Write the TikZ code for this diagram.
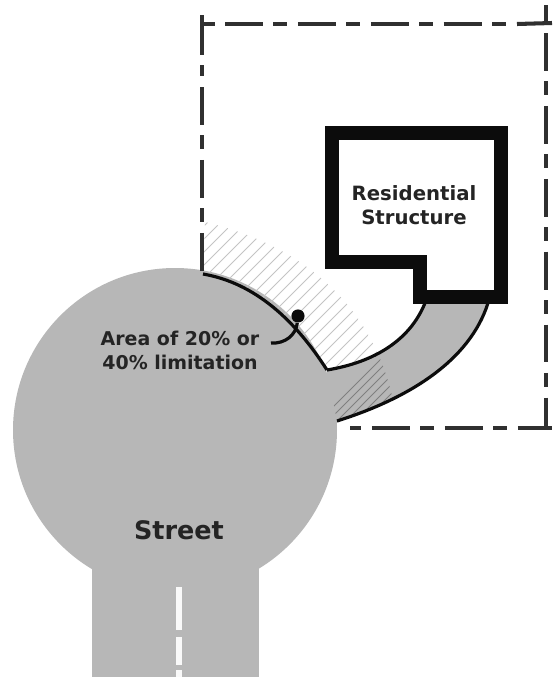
\documentclass[tikz,border=0pt]{standalone}
\usepackage{fontspec}
\setmainfont{DejaVu Sans}
\definecolor{RoadGrey}{HTML}{B7B7B7}
\definecolor{HatchLight}{HTML}{C4C4C4}
\definecolor{HatchDark}{HTML}{7F7F7F}
\definecolor{WallBlack}{HTML}{0C0C0C}
\newcommand{\edgeCurve}{(203,274) .. controls (255,283) and (295,320) .. (327,370)}
\newcommand{\edgeBack}{(327,370) .. controls (295,320) and (255,283) .. (203,274)}
\newcommand{\innerCurve}{(327,370) .. controls (375,362) and (410,340) .. (425,303)}
\newcommand{\innerBack}{(425,303) .. controls (410,340) and (375,362) .. (327,370)}
\newcommand{\outerCurve}{(337,421) .. controls (410,398) and (470,360) .. (488,303)}
\newcommand{\hatchEdge}{(205,222) .. controls (290,242) and (370,295) .. (393,400)}
\tikzset{
  lotline/.style={WallBlack!85,line width=2.3pt,dash pattern=on 21.5pt off 6pt on 8pt off 6pt},
  lotsolid/.style={WallBlack!85,line width=2.3pt},
  arcline/.style={WallBlack,line width=1.8pt},
  label/.style={text=WallBlack!90,align=center,inner sep=0pt}
}
\begin{document}
\begin{tikzpicture}[x=0.02cm,y=-0.02cm]
  \useasboundingbox (0,0) rectangle (552,677);
  % street and driveway
  \fill[RoadGrey] (175,430) circle (162);
  \fill[RoadGrey] (92,560) rectangle (259,677);
  \fill[RoadGrey] \outerCurve -- (425,303) .. controls (410,340) and (375,362) .. (327,370) -- (320,400) -- cycle;
  \foreach \y/\z in {587/630,637/665,670/677} {
    \fill[white!92!RoadGrey] (176,\y) rectangle (182,\z);
  }
  % hatching
  \begin{scope}
    \clip \hatchEdge -- (337,421) -- \edgeBack -- cycle;
    \begin{scope}
      \clip (200,200) -- (430,200) -- \innerBack -- (200,370) -- cycle;
      \foreach \t in {0,13,...,330} {
        \draw[HatchLight,line width=0.5pt] (40+\t,390) -- +(200,-200);
      }
    \end{scope}
    \begin{scope}
      \clip \innerCurve -- (430,430) -- (327,430) -- cycle;
      \foreach \t in {0,9,...,120} {
        \draw[HatchDark,line width=0.5pt] (310+\t,430) -- +(90,-90);
      }
    \end{scope}
  \end{scope}
  % arcs
  \draw[arcline] \edgeCurve;
  \draw[arcline] \innerCurve;
  \draw[arcline] \outerCurve;
  % lot lines
  \draw[lotsolid] (202,15) -- (202,55);
  \draw[lotsolid] (202,24) -- (215,24);
  \draw[lotline] (225,24) -- (507,24);
  \draw[lotsolid] (517,24) -- (552,23);
  \draw[lotsolid] (546,5) -- (546,24);
  \draw[lotline] (546,33) -- (546,428);
  \draw[lotline,line width=1.9pt] (202,65) -- (202,76);
  \draw[lotline,line width=1.9pt] (202,87) -- (202,274);
  \draw[lotline,dash phase=29pt] (350,428) -- (552,428);
  % building
  \draw[WallBlack,line width=8.5pt,line join=miter] (332,133) -- (501,133) -- (501,297) -- (420,297) -- (420,262) -- (332,262) -- cycle;
  % labels
  \node[label,font=\bfseries\fontsize{11.2}{14}\selectfont] (structure) at (414,205) {Residential\\Structure};
  \node[label,font=\bfseries\fontsize{10.8}{13.6}\selectfont] (limit) at (180,350) {Area of 20\% or\\40\% limitation};
  \node[label,font=\bfseries\fontsize{14.5}{16}\selectfont] (street) at (179,530) {Street};
  \node[circle,fill=WallBlack,minimum size=7.5pt,inner sep=0pt] (dot) at (298,316) {};
  \coordinate (leaderend) at (271,343);
  \draw[arcline] (dot) .. controls (296,335) and (285,344) .. (leaderend);
\end{tikzpicture}
\end{document}
